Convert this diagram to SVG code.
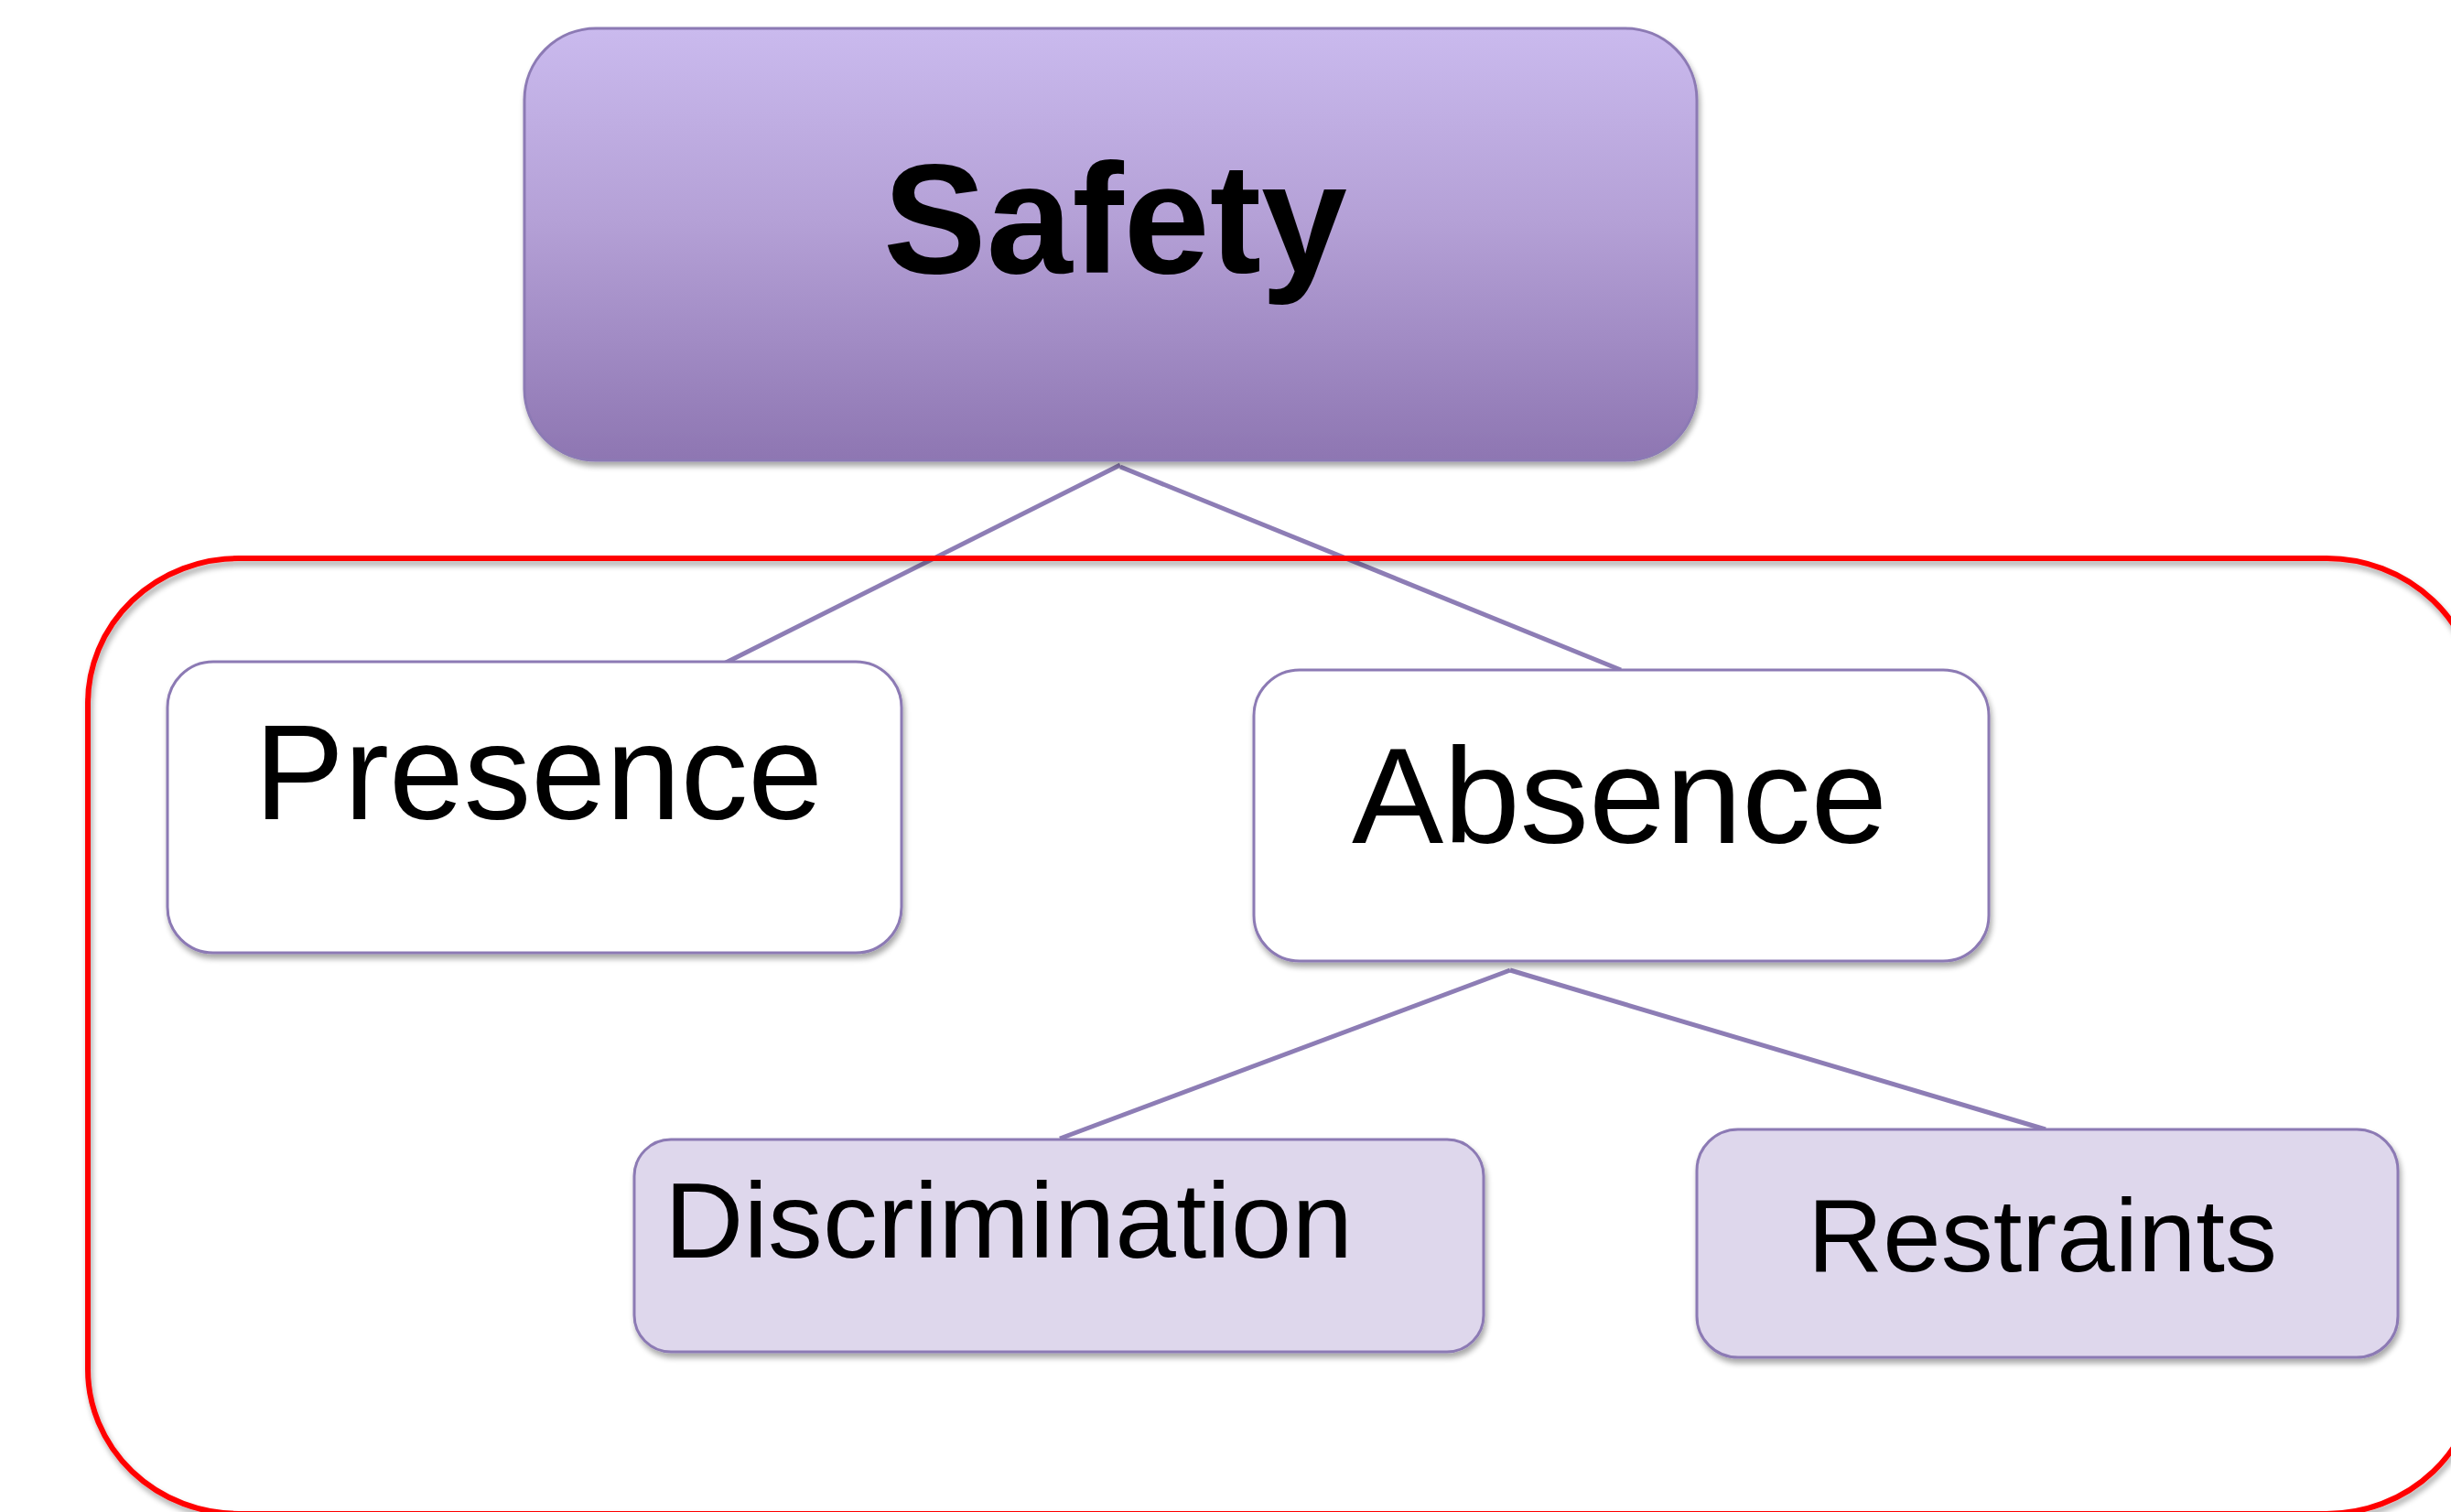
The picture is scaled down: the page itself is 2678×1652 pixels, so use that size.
<svg xmlns="http://www.w3.org/2000/svg" width="2678" height="1652" viewBox="0 0 2678 1652">
  <defs>
    <linearGradient id="gSafety" x1="0" y1="0" x2="0" y2="1">
      <stop offset="0" stop-color="#CABAEE"/>
      <stop offset="0.45" stop-color="#B4A0D6"/>
      <stop offset="1" stop-color="#8E76B2"/>
    </linearGradient>
    <filter id="shadow" x="-5%" y="-5%" width="115%" height="120%">
      <feGaussianBlur in="SourceAlpha" stdDeviation="3"/>
      <feOffset dx="2" dy="5" result="b"/>
      <feComponentTransfer><feFuncA type="linear" slope="0.35"/></feComponentTransfer>
      <feMerge><feMergeNode/><feMergeNode in="SourceGraphic"/></feMerge>
    </filter>
    <style>
      .node { stroke: #8C7AB4; stroke-width: 3; filter: url(#shadow); }
      .white { fill: #FFFFFF; }
      .lilac { fill: #DED7EC; }
      .conn { stroke: #8D7DB5; stroke-width: 5; fill: none; }
      .lbl { font-family: "Liberation Sans", sans-serif; fill: #000000; }
    </style>
  </defs>
  <rect width="2678" height="1652" fill="#FFFFFF"/>

  <g id="connectors">
    <line class="conn" x1="1224" y1="508" x2="789" y2="726"/>
    <line class="conn" x1="1224" y1="510" x2="1771" y2="732"/>
    <line class="conn" x1="1650" y1="1060" x2="1158" y2="1244"/>
    <line class="conn" x1="1650" y1="1060" x2="2235" y2="1234"/>
  </g>

  <g id="group-frame">
    <rect x="96" y="610" width="2611" height="1044" rx="165" ry="158" fill="none" stroke="#FF0000" stroke-width="6" filter="url(#shadow)"/>
  </g>

  <g id="node-safety">
    <rect class="node" x="573" y="31" width="1281" height="472" rx="78" ry="78" fill="url(#gSafety)"/>
    <text class="lbl" x="965" y="298" font-size="170" font-weight="bold" textLength="507" lengthAdjust="spacingAndGlyphs">Safety</text>
  </g>

  <g id="node-presence">
    <rect class="node white" x="183" y="723" width="802" height="318" rx="50" ry="50"/>
    <text class="lbl" x="278" y="895" font-size="148" textLength="621" lengthAdjust="spacingAndGlyphs">Presence</text>
  </g>

  <g id="node-absence">
    <rect class="node white" x="1370" y="732" width="803" height="318" rx="50" ry="50"/>
    <text class="lbl" x="1477" y="921" font-size="148" textLength="585" lengthAdjust="spacingAndGlyphs">Absence</text>
  </g>

  <g id="node-discrimination">
    <rect class="node lilac" x="693" y="1245" width="928" height="232" rx="40" ry="40"/>
    <text class="lbl" x="726" y="1374" font-size="116" textLength="752" lengthAdjust="spacingAndGlyphs">Discrimination</text>
  </g>

  <g id="node-restraints">
    <rect class="node lilac" x="1854" y="1234" width="766" height="249" rx="45" ry="45"/>
    <text class="lbl" x="1975" y="1389" font-size="114" textLength="513" lengthAdjust="spacingAndGlyphs">Restraints</text>
  </g>
</svg>
